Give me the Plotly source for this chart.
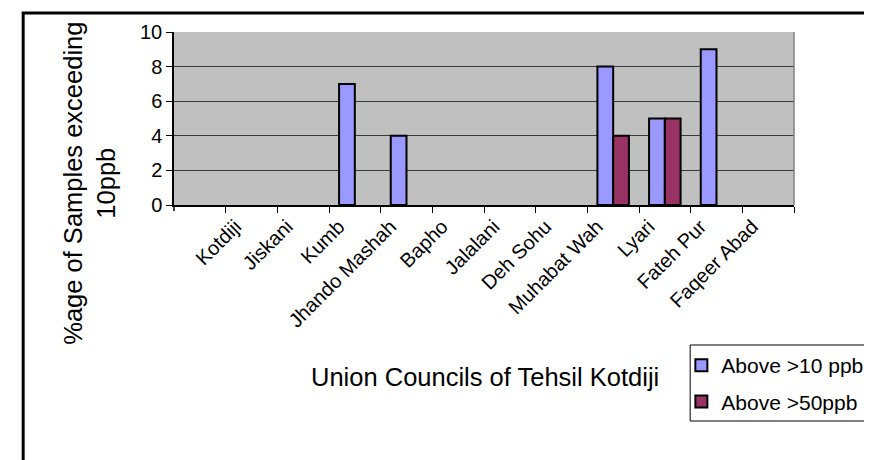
import plotly.graph_objects as go

categories = ["Kotdiji", "Jiskani", "Kumb", "Jhando Mashah", "Bapho", "Jalalani",
              "Deh Sohu", "Muhabat Wah", "Lyari", "Fateh Pur", "Faqeer Abad"]
above_10ppb = [0, 0, 7, 4, 0, 0, 0, 8, 5, 9, 0]
above_50ppb = [0, 0, 0, 0, 0, 0, 0, 4, 5, 0, 0]
y_ticks = [0, 2, 4, 6, 8, 10]

W, H = 872, 460
L, R, T, B = 166, 799, 24, 197


def px(x):
    return (x - L) / (R - L)


def py(y):
    return (B - y) / (B - T)


def hide_zero(values):
    return [v if v != 0 else None for v in values]


FONT = "Liberation Sans, Arial, sans-serif"

fig = go.Figure()
fig.add_trace(go.Bar(x=categories, y=hide_zero(above_10ppb), name="Above >10 ppb",
                     marker=dict(color="#9999FF", line=dict(color="black", width=2)),
                     legendgroup="a"))
fig.add_trace(go.Bar(x=categories, y=hide_zero(above_50ppb), name="Above >50ppb",
                     marker=dict(color="#993366", line=dict(color="black", width=2)),
                     legendgroup="b"))

shapes = [
    # right border of plot area
    dict(type="line", xref="paper", yref="paper", x0=1, x1=1, y0=0, y1=1,
         line=dict(color="#808080", width=1.5)),
    # tick at left end of x axis
    dict(type="line", xref="paper", yref="paper", x0=0, x1=0, y0=0, y1=py(203),
         line=dict(color="black", width=1.5)),
    # outer chart border
    dict(type="rect", xref="paper", yref="paper", x0=px(12), x1=px(890),
         y0=py(475), y1=py(5), line=dict(color="black", width=3)),
    dict(type="line", xref="paper", yref="paper", x0=px(12), x1=px(872),
         y0=py(459), y1=py(459), line=dict(color="#9a9a9a", width=1.5)),
    # legend frame
    dict(type="rect", xref="paper", yref="paper", x0=px(693), x1=px(885),
         y0=py(413), y1=py(337), line=dict(color="black", width=1), fillcolor="white",
         layer="below"),
]

annotations = [
    dict(text="%age of Samples exceeding<br>10ppb", textangle=-90, showarrow=False,
         xref="paper", yref="paper", x=px(79), y=py(175), xanchor="center", yanchor="middle",
         font=dict(family=FONT, size=25.5, color="black")),
    dict(text="Union Councils of Tehsil Kotdiji", showarrow=False,
         xref="paper", yref="paper", x=px(484), y=py(369), xanchor="center", yanchor="middle",
         font=dict(family=FONT, size=25.5, color="black")),
]

fig.update_layout(
    width=W, height=H,
    margin=dict(l=L, r=W - R, t=T, b=H - B, pad=0),
    paper_bgcolor="white", plot_bgcolor="#C0C0C0",
    font=dict(family=FONT, color="black"),
    barmode="group", bargap=0.39, bargroupgap=0,
    showlegend=True,
    legend=dict(x=px(684), y=py(337), xanchor="left", yanchor="top",
                borderwidth=0, bgcolor="rgba(0,0,0,0)",
                font=dict(family=FONT, size=21, color="black"),
                traceorder="grouped", tracegroupgap=6),
    shapes=shapes, annotations=annotations,
)
fig.update_xaxes(type="category", categoryorder="array", categoryarray=categories,
                 range=[-1.5, 10.5], tickson="boundaries", ticks="outside", ticklen=6,
                 tickcolor="black", tickwidth=1, tickangle=-45, ticklabelshift=-16,
                 tickfont=dict(family=FONT, size=20, color="black"),
                 showline=True, linecolor="black", linewidth=2, showgrid=False)
fig.update_yaxes(range=[0, 10], tickvals=y_ticks, ticks="outside", ticklen=6,
                 tickcolor="black", tickwidth=1,
                 tickfont=dict(family=FONT, size=20, color="black"),
                 showline=True, linecolor="black", linewidth=1.5,
                 showgrid=True, gridcolor="#3a3a3a", gridwidth=1, zeroline=False)

fig.write_html("out.html")
